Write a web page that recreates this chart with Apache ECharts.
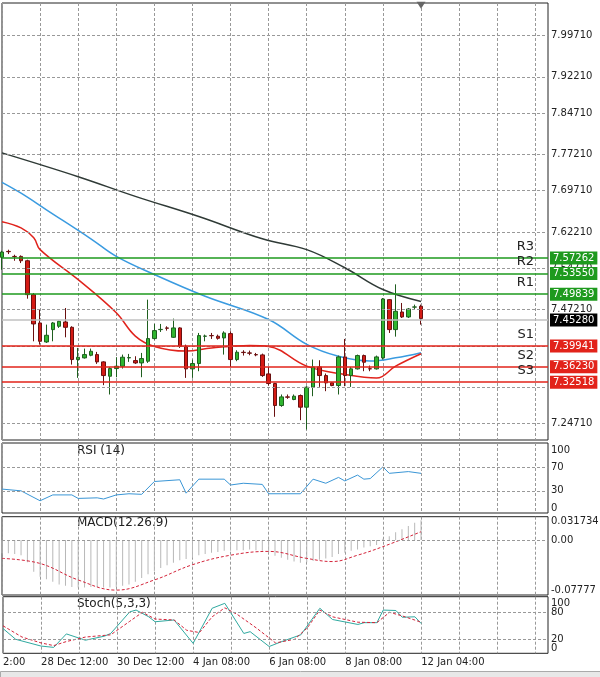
<!DOCTYPE html>
<html>
<head>
<meta charset="utf-8">
<script src="https://cdn.jsdelivr.net/npm/echarts@6/dist/echarts.min.js"></script>
<style>
  html, body { margin: 0; padding: 0; background: #fff; }
  #chart { width: 600px; height: 677px; }
</style>
</head>
<body>
<div id="chart"></div>
<script>
// 4H candles, [open, close, low, high]
const candles = [
  [7.5711, 7.5814, 7.5473, 7.5839], [7.5826, 7.5820, 7.5775, 7.5859], [7.5730, 7.5726, 7.5646, 7.5762],
  [7.5730, 7.5646, 7.5601, 7.5749], [7.5646, 7.4991, 7.4913, 7.5666], [7.4991, 7.4425, 7.4090, 7.5023],
  [7.4444, 7.4090, 7.4026, 7.4701], [7.4077, 7.4206, 7.4058, 7.4412], [7.4315, 7.4444, 7.4090, 7.4463],
  [7.4380, 7.4476, 7.4348, 7.4489], [7.4463, 7.4360, 7.4167, 7.4733], [7.4360, 7.3737, 7.3640, 7.4380],
  [7.3737, 7.3782, 7.3383, 7.3962], [7.3769, 7.3833, 7.3756, 7.3949], [7.3820, 7.3897, 7.3801, 7.3949],
  [7.3833, 7.3692, 7.3653, 7.3885], [7.3692, 7.3428, 7.3242, 7.3705], [7.3415, 7.3563, 7.3062, 7.3589],
  [7.3563, 7.3608, 7.3396, 7.3782], [7.3608, 7.3782, 7.3563, 7.3833], [7.3769, 7.3775, 7.3692, 7.3846],
  [7.3717, 7.3672, 7.3653, 7.3801], [7.3672, 7.3756, 7.3396, 7.3865], [7.3705, 7.4142, 7.3672, 7.4894],
  [7.4142, 7.4296, 7.4122, 7.4425], [7.4315, 7.4320, 7.4270, 7.4425], [7.4348, 7.4342, 7.4296, 7.4380],
  [7.4167, 7.4348, 7.4155, 7.4528], [7.4348, 7.3994, 7.3962, 7.4360], [7.3994, 7.3557, 7.3383, 7.4026],
  [7.3557, 7.3660, 7.3383, 7.3737], [7.3660, 7.4200, 7.3512, 7.4251], [7.4187, 7.4190, 7.4090, 7.4219],
  [7.4200, 7.4198, 7.4135, 7.4251], [7.4187, 7.4148, 7.4122, 7.4219], [7.4155, 7.4251, 7.3833, 7.4283],
  [7.4238, 7.3737, 7.3595, 7.4283], [7.3737, 7.3878, 7.3705, 7.3917], [7.3878, 7.3872, 7.3814, 7.3917],
  [7.3865, 7.3860, 7.3820, 7.3910], [7.3833, 7.3828, 7.3801, 7.3865], [7.3827, 7.3428, 7.3402, 7.3852],
  [7.3460, 7.3274, 7.3235, 7.3595], [7.3274, 7.2849, 7.2631, 7.3287], [7.2849, 7.3016, 7.2824, 7.3062],
  [7.3016, 7.3010, 7.2978, 7.3062], [7.2965, 7.3029, 7.2952, 7.3062], [7.3042, 7.2817, 7.2566, 7.3062],
  [7.2817, 7.3203, 7.2386, 7.3222], [7.3203, 7.3595, 7.3029, 7.3737], [7.3595, 7.3428, 7.3209, 7.3724],
  [7.3428, 7.3287, 7.3126, 7.3467], [7.3287, 7.3235, 7.3222, 7.3299], [7.3235, 7.3788, 7.3062, 7.3814],
  [7.3788, 7.3428, 7.3222, 7.4135], [7.3428, 7.3557, 7.3209, 7.3595], [7.3557, 7.3814, 7.3544, 7.3833],
  [7.3814, 7.3685, 7.3512, 7.3833], [7.3560, 7.3557, 7.3512, 7.3621], [7.3557, 7.3788, 7.3544, 7.3814],
  [7.3769, 7.4907, 7.3737, 7.4926], [7.4894, 7.4316, 7.4251, 7.4907], [7.4316, 7.4669, 7.4180, 7.5190],
  [7.4656, 7.4560, 7.4540, 7.4830], [7.4560, 7.4714, 7.4540, 7.4733], [7.4750, 7.4753, 7.4714, 7.4798],
  [7.4766, 7.4528, 7.4412, 7.4798]
];
const slotCount = 87;

// moving averages, [candle index, value]
const maSlow = [[0, 7.773], [12, 7.727], [21, 7.689], [31, 7.650], [41, 7.607], [48, 7.586], [54, 7.551], [60, 7.509], [66, 7.486]];
const maMid = [[0, 7.716], [3, 7.695], [7, 7.663], [14, 7.607], [18, 7.573], [24, 7.538], [32, 7.496], [42, 7.451], [48, 7.403], [53, 7.380], [58, 7.371], [62, 7.377], [66, 7.387]];
const maFast = [[0, 7.640], [3, 7.628], [5, 7.609], [6, 7.586], [12, 7.528], [18, 7.464], [21, 7.419], [24, 7.399], [29, 7.390], [33, 7.396], [39, 7.401], [42, 7.399], [48, 7.361], [54, 7.345], [59, 7.338], [62, 7.361], [66, 7.385]];

const levelNames = ['R3', 'R2', 'R1', 'S1', 'S2', 'S3'];
const levelValues = [7.57262, 7.53550, 7.49839, 7.39941, 7.36230, 7.32518];
const lastPrice = 7.45280;

const priceGridValues = [7.99710, 7.92210, 7.84710, 7.77210, 7.69710, 7.62210, 7.54710, 7.47210, 7.39710, 7.32210, 7.24710];
const priceTickLabels = [7.99710, 7.92210, 7.84710, 7.77210, 7.69710, 7.62210, 7.54710, 7.47210, 7.24710];

const rsiPoints = [[0, 33], [3, 30], [6, 13], [8, 23], [11, 23], [12, 17], [15, 18], [16, 16], [18, 23], [20, 25], [22, 24], [24, 46], [28, 49], [29, 26], [31, 50], [35, 50], [36, 40], [38, 43], [41, 41], [42, 25], [44, 25], [47, 25], [49, 50], [51, 43], [53, 53], [54, 47], [56, 57], [57, 50], [58, 51], [60, 71], [61, 60], [64, 63], [66, 60]];
const rsiTicks = [100, 70, 30, 0];

const macdValues = [-0.021, -0.021, -0.022, -0.024, -0.035, -0.050, -0.058, -0.062, -0.066, -0.070, -0.072, -0.074, -0.075, -0.075, -0.074, -0.074, -0.075, -0.075, -0.074, -0.072, -0.070, -0.066, -0.060, -0.054, -0.049, -0.044, -0.040, -0.036, -0.032, -0.030, -0.028, -0.024, -0.022, -0.020, -0.019, -0.017, -0.017, -0.016, -0.016, -0.015, -0.016, -0.017, -0.020, -0.025, -0.028, -0.031, -0.034, -0.036, -0.035, -0.033, -0.031, -0.029, -0.027, -0.022, -0.020, -0.017, -0.015, -0.012, -0.010, -0.008, 0.002, 0.006, 0.012, 0.017, 0.022, 0.027, 0.031];
const macdSignal = [[0, -0.029], [6, -0.037], [12, -0.063], [18, -0.079], [24, -0.063], [30, -0.039], [36, -0.024], [42, -0.018], [48, -0.029], [52, -0.034], [56, -0.024], [60, -0.0105], [66, 0.013]];
const macdTicks = ['0.031734', '0.00', '-0.07777'];
const macdTickValues = [0.031734, 0, -0.07777];

const stochMain = [[0, 44], [2, 20], [6, 5], [8, 2], [10, 32], [13, 18], [16, 27], [17, 33], [20, 81], [21, 85], [23, 70], [24, 59], [27, 63], [30, 11], [33, 89], [35, 100], [38, 33], [39, 37], [42, 4], [44, 15], [47, 30], [50, 89], [52, 64], [56, 53], [57, 57], [59, 57], [60, 85], [62, 84], [63, 69], [65, 70], [66, 55]];
const stochSignal = [[0, 50], [3, 25], [6, 12], [8, 6], [10, 15], [13, 25], [17, 30], [20, 60], [22, 80], [24, 65], [27, 63], [29, 40], [31, 35], [33, 70], [35, 90], [37, 75], [40, 45], [43, 12], [46, 20], [48, 45], [50, 85], [52, 70], [56, 58], [59, 57], [61, 80], [63, 72], [66, 58]];
const stochTicks = [100, 80, 20, 0];

const dateLabels = ['2:00', '28 Dec 12:00', '30 Dec 12:00', '4 Jan 08:00', '6 Jan 08:00', '8 Jan 08:00', '12 Jan 04:00'];
const dateLabelIdx = [0, 6, 18, 30, 42, 54, 66];

const categories = Array.from({ length: slotCount }, (_, i) => String(i));
const FONT = 'DejaVu Sans';
const GREEN = '#1e9a1e';
const RED = '#e2231a';

const chart = echarts.init(document.getElementById('chart'));

const grids = [
  { top: 3, height: 437 },
  { top: 443, height: 70 },
  { top: 516.7, height: 78.3 },
  { top: 596.7, height: 56.6 },
].map((g) => ({ left: 2, right: 52, top: g.top, height: g.height, show: true, borderColor: '#222', borderWidth: 1, backgroundColor: '#fff' }));

const xAxes = grids.map((g, i) => ({
  type: 'category',
  gridIndex: i,
  data: categories,
  boundaryGap: false,
  axisLine: { show: false },
  axisTick: { show: false },
  splitLine: { show: true, interval: (idx) => idx % 6 === 0, lineStyle: { color: '#999', type: [3, 2], width: 1 } },
  axisLabel: {
    show: i === 3,
    interval: 0,
    align: 'left',
    margin: 4,
    fontFamily: FONT,
    fontSize: 10,
    color: '#222',
    formatter: (v, idx) => {
      const k = dateLabelIdx.indexOf(idx);
      return k >= 0 ? dateLabels[k] : '';
    },
  },
}));

const yAxes = [
  { gridIndex: 0, min: 7.2183, max: 8.0625 },
  { gridIndex: 1, min: -8, max: 112 },
  { gridIndex: 2, min: -0.0867, max: 0.0367 },
  { gridIndex: 3, min: -11.1, max: 114.7 },
].map((a) => ({ type: 'value', scale: true, show: false, splitLine: { show: false }, ...a }));

const tickLabel = { show: true, position: 'end', distance: 3, fontFamily: FONT, fontSize: 10, color: '#222' };
const dashed = { color: '#999', type: [3, 2], width: 1 };
const hidden = { color: 'rgba(0,0,0,0)', width: 0 };

// price pane grid lines and labels
const priceLines = priceGridValues.map((v) => ({
  yAxis: v,
  lineStyle: dashed,
  label: priceTickLabels.includes(v) ? { ...tickLabel, formatter: v.toFixed(5) } : { show: false },
}));

const levelLines = [];
levelNames.forEach((name, i) => {
  const col = name[0] === 'R' ? GREEN : RED;
  levelLines.push({
    yAxis: levelValues[i],
    lineStyle: { color: col, width: 1.5, type: 'solid' },
    label: { show: true, position: 'end', distance: 2, formatter: levelValues[i].toFixed(5), backgroundColor: col, color: '#fff', padding: [2, 3, 1, 3], fontFamily: FONT, fontSize: 10 },
  });
  levelLines.push({
    yAxis: levelValues[i],
    lineStyle: hidden,
    label: { show: true, position: 'insideEndTop', distance: [14, 5], formatter: name, color: '#222', fontFamily: FONT, fontSize: 13 },
  });
});
levelLines.push({
  yAxis: lastPrice,
  lineStyle: { color: '#c0c0c0', width: 1.5, type: 'solid' },
  label: { show: true, position: 'end', distance: 2, formatter: lastPrice.toFixed(5), backgroundColor: '#000', color: '#fff', padding: [2, 3, 1, 3], fontFamily: FONT, fontSize: 10 },
});

const indicatorLines = (ticks, values, dashedVals) =>
  ticks.map((t, i) => ({
    yAxis: values[i],
    lineStyle: dashedVals.includes(values[i]) ? dashed : hidden,
    label: { ...tickLabel, formatter: String(t) },
  }));

const maLine = (data, color, width) => ({
  type: 'line',
  xAxisIndex: 0,
  yAxisIndex: 0,
  data,
  smooth: 0.4,
  showSymbol: false,
  connectNulls: true,
  lineStyle: { color, width },
  z: 3,
  silent: true,
});

const option = {
  animation: false,
  backgroundColor: '#fff',
  textStyle: { fontFamily: FONT },
  grid: grids,
  xAxis: xAxes,
  yAxis: yAxes,
  graphic: [
    { type: 'text', left: 77, top: 445, style: { text: 'RSI (14)', font: '12px "DejaVu Sans"', fill: '#222' } },
    { type: 'text', left: 77, top: 517, style: { text: 'MACD(12.26.9)', font: '12px "DejaVu Sans"', fill: '#222' } },
    { type: 'text', left: 77, top: 598, style: { text: 'Stoch(5,3,3)', font: '12px "DejaVu Sans"', fill: '#222' } },
    { type: 'rect', left: 0, top: 671, shape: { width: 600, height: 6 }, style: { fill: '#e8e8e8', stroke: '#aaa' } },
  ],
  series: [
    {
      type: 'line',
      xAxisIndex: 0,
      yAxisIndex: 0,
      data: [],
      markLine: { symbol: 'none', silent: true, animation: false, data: priceLines },
    },
    maLine(maSlow, '#2f3a36', 1.5),
    maLine(maMid, '#3a9be0', 1.5),
    maLine(maFast, '#e0231c', 1.5),
    {
      type: 'candlestick',
      xAxisIndex: 0,
      yAxisIndex: 0,
      data: candles,
      barWidth: 4,
      z: 4,
      itemStyle: { color: '#2fb52f', color0: '#d41a14', borderColor: '#1f5f1f', borderColor0: '#6a1010', borderWidth: 1 },
      markLine: { symbol: 'none', silent: true, animation: false, z: 5, data: levelLines },
      markPoint: {
        silent: true,
        data: [{ coord: [66, 8.058], symbol: 'triangle', symbolRotate: 180, symbolSize: [9, 7], itemStyle: { color: '#666' } }],
        label: { show: false },
      },
    },
    {
      type: 'line',
      xAxisIndex: 1,
      yAxisIndex: 1,
      data: rsiPoints,
      showSymbol: false,
      connectNulls: true,
      lineStyle: { color: '#3a96d6', width: 1 },
      markLine: { symbol: 'none', silent: true, animation: false, data: indicatorLines(rsiTicks, rsiTicks, [70, 30]) },
    },
    {
      type: 'bar',
      xAxisIndex: 2,
      yAxisIndex: 2,
      data: macdValues,
      barWidth: 1,
      itemStyle: { color: '#b8b8b8' },
      markLine: { symbol: 'none', silent: true, animation: false, data: indicatorLines(macdTicks, macdTickValues, [0]) },
    },
    {
      type: 'line',
      xAxisIndex: 2,
      yAxisIndex: 2,
      data: macdSignal,
      smooth: 0.4,
      showSymbol: false,
      lineStyle: { color: '#d4243a', width: 1, type: [3, 2] },
    },
    {
      type: 'line',
      xAxisIndex: 3,
      yAxisIndex: 3,
      data: stochMain,
      showSymbol: false,
      lineStyle: { color: '#2fa9a0', width: 1 },
      markLine: { symbol: 'none', silent: true, animation: false, data: indicatorLines(stochTicks, stochTicks, [80, 20]) },
    },
    {
      type: 'line',
      xAxisIndex: 3,
      yAxisIndex: 3,
      data: stochSignal,
      showSymbol: false,
      lineStyle: { color: '#d4243a', width: 1, type: [3, 2] },
    },
  ],
};

chart.setOption(option);
</script>
</body>
</html>
